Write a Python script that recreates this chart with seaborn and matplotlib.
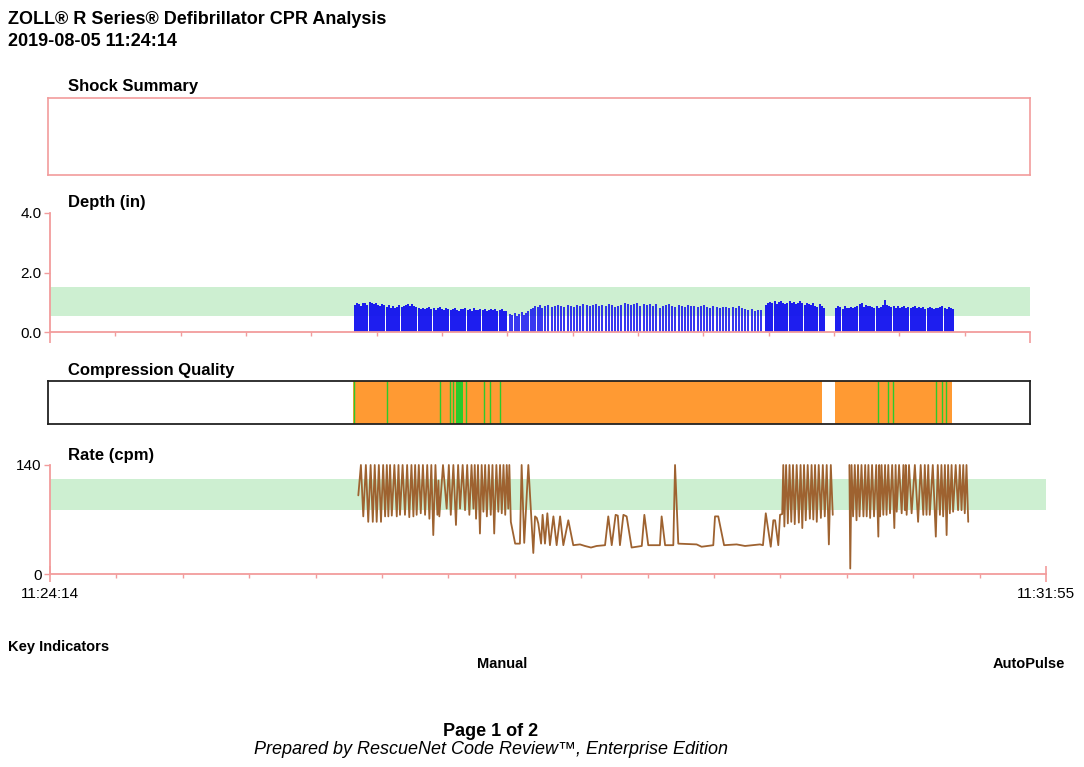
import numpy as np
import pandas as pd
import matplotlib
matplotlib.use("Agg")
import matplotlib.pyplot as plt
import seaborn as sns

sns.set_theme(style="white")
plt.rcParams['font.family'] = ['Liberation Sans', 'DejaVu Sans']
plt.rcParams['text.color'] = 'black'
plt.rcParams['xtick.color'] = 'black'
plt.rcParams['ytick.color'] = 'black'

# ---------------- data ----------------
T_END = 461  # seconds from 11:24:14 to 11:31:55
time_labels = ["11:24:14", "11:31:55"]

depth_ticks = [0.0, 2.0, 4.0]
depth_tick_labels = ["0.0", "2.0", "4.0"]
depth_target = (0.53, 1.52)

rate_ticks = [0, 140]
rate_tick_labels = ["0", "140"]
rate_target = (82, 122)

# depth bars: (start s, end s) of each compression run, and depths (in)
depth_seg_a = (143.3, 214.5)
depth_a = [0.92, 0.98, 0.95, 0.88, 0.99, 0.97, 0.90, 1.00, 0.96, 0.93, 0.98, 0.92,
           0.86, 0.95, 0.90, 0.84, 0.92, 0.82, 0.88, 0.80, 0.85, 0.90, 0.83, 0.87,
           0.92, 0.94, 0.86, 0.93, 0.89, 0.83, 0.80, 0.78, 0.82, 0.76, 0.80, 0.84,
           0.77, 0.81, 0.75, 0.79, 0.83, 0.76, 0.74, 0.80, 0.78, 0.73, 0.77, 0.81,
           0.75, 0.72, 0.78, 0.76, 0.80, 0.74, 0.77, 0.72, 0.79, 0.75, 0.73, 0.78,
           0.74, 0.76, 0.71, 0.75, 0.78, 0.73, 0.76, 0.72, 0.74, 0.77, 0.72, 0.70]
depth_seg_b = (216.4, 230.5)
depth_b = [0.62, 0.58, 0.64, 0.55, 0.60, 0.66, 0.58, 0.63, 0.70, 0.78, 0.82, 0.88,
           0.85, 0.92]
depth_seg_c = (231.5, 334.5)
depth_c = [0.80, 0.86, 0.90, 0.84, 0.88, 0.92, 0.86, 0.83, 0.90, 0.87, 0.85, 0.92,
           0.88, 0.94, 0.90, 0.86, 0.92, 0.95, 0.89, 0.91, 0.86, 0.93, 0.90, 0.84,
           0.88, 0.92, 0.96, 0.95, 0.90, 0.93, 0.96, 0.88, 0.94, 0.92, 0.95, 0.89,
           0.93, 0.82, 0.86, 0.90, 0.94, 0.88, 0.85, 0.91, 0.87, 0.84, 0.90, 0.86,
           0.88, 0.84, 0.87, 0.90, 0.85, 0.82, 0.86, 0.84, 0.81, 0.85, 0.83, 0.80,
           0.84, 0.82, 0.86, 0.80, 0.76, 0.74, 0.78, 0.72, 0.75, 0.73]
depth_seg_d = (336.8, 364.0)
depth_d = [0.90, 0.96, 1.02, 0.98, 1.05, 0.94, 1.00, 1.04, 0.97, 0.93, 0.99, 1.03,
           0.96, 1.01, 0.95, 0.98, 1.04, 0.97, 0.92, 0.99, 0.95, 0.90, 0.96, 0.88,
           0.85, 0.93, 0.89, 0.82]
depth_seg_e = (369.8, 424.8)
depth_e = [0.80, 0.88, 0.84, 0.78, 0.86, 0.82, 0.80, 0.85, 0.79, 0.83, 0.88, 0.95,
           0.97, 0.84, 0.90, 0.88, 0.86, 0.84, 0.82, 0.86, 0.80, 0.84, 0.90, 1.07,
           0.92, 0.88, 0.85, 0.87, 0.82, 0.86, 0.80, 0.84, 0.87, 0.82, 0.85, 0.79,
           0.83, 0.86, 0.80, 0.84, 0.82, 0.85, 0.78, 0.82, 0.84, 0.80, 0.77, 0.82,
           0.79, 0.83, 0.86, 0.81, 0.78, 0.84, 0.80, 0.76]

# compression quality
cq_runs = [(142.5, 363.0), (369.3, 424.3)]
cq_good_lines = [143.0, 158.5, 183.5, 188.2, 189.6, 195.7, 204.2, 207.0, 211.7,
                 389.3, 394.2, 396.6, 416.6, 419.6, 421.5]
cq_good_spans = [(190.9, 194.4)]

# rate (cpm), first run
rate_a_t = [142.7, 143.9, 145.0, 146.2, 147.3, 148.4, 149.4, 150.3, 151.2, 152.2,
            153.2, 154.2, 155.1, 155.9, 156.6, 157.4, 158.2, 159.4, 160.5, 161.3,
            162.0, 163.2, 164.3, 165.3, 166.3, 167.3, 168.2, 169.0, 169.7, 170.7,
            171.6, 172.6, 173.6, 174.6, 175.6, 176.5, 177.4, 178.4, 179.3, 179.8,
            180.2, 181.9, 183.6, 184.6, 185.5, 186.7, 187.9, 188.9, 189.8, 191.0,
            192.1, 193.1, 194.1, 195.1, 196.0, 196.6, 197.2, 198.1, 199.0, 199.8,
            200.6, 201.4, 202.2, 203.1, 204.0, 204.8, 205.6, 206.6, 207.5, 208.3,
            209.1, 209.9, 210.7, 211.4, 212.1, 212.6, 213.3, 215.3, 217.5, 218.3,
            219.5, 221.4, 223.7, 224.5, 225.3, 226.0, 227.3, 228.0, 229.1, 230.2,
            231.4, 233.0, 234.5, 236.1, 237.6, 239.9, 242.2, 245.3, 247.6, 250.4,
            253.0, 256.9, 258.4, 260.0, 261.8, 262.8, 263.8, 265.4, 266.9, 269.2,
            273.9, 275.1, 276.9, 282.3, 283.1, 284.7, 288.5, 289.3, 290.8, 299.3,
            301.6, 307.0, 307.8, 309.3, 312.0, 317.8, 321.7, 325.4, 328.6, 330.0,
            331.3, 333.6, 334.8, 335.6, 337.1, 337.9, 338.9, 339.4, 339.9, 340.7,
            341.5, 342.3, 343.1, 343.9, 344.7, 345.6, 346.6, 347.4, 348.2, 349.0,
            349.8, 350.7, 351.7, 352.5, 353.3, 354.1, 354.9, 355.8, 356.8, 357.7,
            358.6, 359.5, 360.5, 361.4, 362.3]
rate_a_v = [101, 140, 74, 140, 67, 140, 67, 140, 67, 140,
            67, 140, 74, 140, 74, 140, 75, 140, 74, 140,
            76, 140, 76, 140, 73, 140, 74, 140, 76, 140,
            78, 140, 76, 140, 71, 140, 50, 140, 76, 120,
            74, 140, 84, 140, 76, 140, 63, 140, 84, 140,
            82, 140, 76, 140, 84, 140, 71, 140, 52, 140,
            80, 140, 74, 140, 76, 140, 52, 140, 80, 140,
            78, 140, 76, 140, 84, 140, 67, 39, 39, 140,
            40, 140, 27, 74, 72, 65, 39, 76, 39, 78,
            37, 74, 37, 74, 37, 69, 37, 38, 36, 34,
            36, 37, 74, 37, 76, 75, 37, 76, 74, 34,
            36, 76, 37, 37, 74, 37, 37, 140, 39, 38,
            35, 37, 74, 74, 37, 38, 36, 37, 38, 37,
            78, 35, 69, 69, 37, 76, 77, 140, 61, 140,
            65, 140, 67, 140, 64, 140, 66, 140, 59, 140,
            69, 140, 71, 140, 70, 140, 67, 140, 72, 140,
            74, 140, 38, 140, 76]

# rate (cpm), second run
rate_b_t = [370.0, 370.4, 371.0, 371.7, 372.5, 373.3, 374.0, 374.7, 375.6, 376.5,
            377.3, 378.0, 378.8, 379.6, 380.5, 381.4, 382.4, 383.4, 383.8, 384.2,
            384.9, 385.7, 386.5, 387.2, 388.0, 388.8, 389.8, 390.8, 391.4, 391.9,
            393.0, 394.2, 395.0, 395.7, 396.1, 396.5, 397.6, 398.8, 400.3, 401.8,
            403.0, 404.2, 404.9, 405.7, 406.5, 407.2, 408.6, 410.0, 410.9, 411.9,
            412.6, 413.4, 414.2, 415.0, 415.7, 416.5, 417.3, 418.0, 419.2, 420.3,
            421.1, 421.9, 422.7, 423.4, 424.2, 425.0]
rate_b_v = [140, 7, 140, 74, 140, 69, 140, 74, 140, 74,
            140, 74, 140, 72, 140, 74, 140, 48, 140, 74,
            140, 76, 140, 76, 140, 78, 140, 59, 140, 80,
            140, 78, 140, 82, 140, 76, 140, 78, 140, 67,
            140, 76, 140, 76, 140, 76, 140, 48, 140, 76,
            140, 74, 140, 50, 140, 78, 140, 80, 140, 82,
            140, 82, 140, 78, 140, 67]

# ---------------- styling ----------------
W, H = 1084, 767
PINK = '#F29C9C'
BAND = '#CDEFD1'
BLUE = '#1010EE'
BROWN = '#9E6230'
ORANGE = '#FF9A33'
GREEN = '#2BCB2B'

fig = plt.figure(figsize=(W / 100, H / 100), dpi=100)
fig.patch.set_facecolor('white')


def px_axes(l, t, r, b):
    return fig.add_axes([l / W, 1 - b / H, (r - l) / W, (b - t) / H])


def px_text(x, y, s, **kw):
    fig.text(x / W, 1 - y / H, s, va='center', color='black', **kw)


# header
px_text(8, 19, "ZOLL® R Series® Defibrillator CPR Analysis", ha='left',
        fontsize=13, fontweight='bold')
px_text(8, 41, "2019-08-05 11:24:14", ha='left', fontsize=13, fontweight='bold')

# ---- Shock summary ----
px_text(68, 86, "Shock Summary", ha='left', fontsize=12, fontweight='bold')
ax_s = px_axes(48, 98, 1030, 175)
ax_s.set_xticks([])
ax_s.set_yticks([])
for sp in ax_s.spines.values():
    sp.set_color(PINK)
    sp.set_linewidth(1.2)
ax_s.set_facecolor('white')

# ---- Depth ----
px_text(68, 203, "Depth (in)", ha='left', fontsize=12, fontweight='bold')
ax_d = px_axes(50, 213, 1030, 332)
ax_d.set_xlim(0, T_END)
ax_d.set_ylim(0, 4.0)
ax_d.axhspan(depth_target[0], depth_target[1], color=BAND, lw=0, zorder=0)
for (s, e), h, w in [(depth_seg_a, depth_a, 1.35), (depth_seg_b, depth_b, 1.2),
                     (depth_seg_c, depth_c, 1.2), (depth_seg_d, depth_d, 1.35),
                     (depth_seg_e, depth_e, 1.35)]:
    tt = np.linspace(s, e, len(h))
    ax_d.vlines(tt, 0, h, color=BLUE, lw=w, zorder=2)
ax_d.set_yticks(depth_ticks)
ax_d.set_yticklabels(depth_tick_labels)
ax_d.set_xticks([0, T_END])
ax_d.set_xticks(np.linspace(0, T_END, 16)[1:-1], minor=True)
ax_d.tick_params(axis='x', which='major', direction='out', length=8, width=1.2,
                 color=PINK, labelbottom=False, bottom=True)
ax_d.tick_params(axis='x', which='minor', direction='out', length=3, width=1.0,
                 color=PINK, bottom=True)
ax_d.tick_params(axis='y', direction='out', length=4, width=1.0, color=PINK,
                 labelsize=11, pad=2, left=True, labelcolor='black')
for k in ['top', 'right']:
    ax_d.spines[k].set_visible(False)
for k in ['left', 'bottom']:
    ax_d.spines[k].set_color(PINK)
    ax_d.spines[k].set_linewidth(1.3)
ax_d.set_facecolor('none')

# ---- Compression quality ----
px_text(68, 370, "Compression Quality", ha='left', fontsize=12, fontweight='bold')
ax_c = px_axes(48, 381, 1030, 424)
ax_c.set_xlim(-0.94, T_END)
ax_c.set_ylim(0, 1)
for s, e in cq_runs:
    ax_c.axvspan(s, e, color=ORANGE, lw=0, zorder=1)
for s, e in cq_good_spans:
    ax_c.axvspan(s, e, color=GREEN, lw=0, zorder=2)
ax_c.vlines(cq_good_lines, 0, 1, color=GREEN, lw=1.0, zorder=2)
ax_c.set_xticks([])
ax_c.set_yticks([])
for sp in ax_c.spines.values():
    sp.set_color('#222222')
    sp.set_linewidth(1.3)
    sp.set_zorder(5)

# ---- Rate ----
px_text(68, 456, "Rate (cpm)", ha='left', fontsize=12, fontweight='bold')
ax_r = px_axes(50, 465, 1046, 574)
ax_r.set_xlim(0, T_END)
ax_r.set_ylim(0, 140)
ax_r.axhspan(rate_target[0], rate_target[1], color=BAND, lw=0, zorder=0)
df_a = pd.DataFrame({'t': rate_a_t, 'rate': rate_a_v})
df_b = pd.DataFrame({'t': rate_b_t, 'rate': rate_b_v})
for df in (df_a, df_b):
    sns.lineplot(data=df, x='t', y='rate', ax=ax_r, color=BROWN, lw=1.3,
                 estimator=None, sort=False, clip_on=False, zorder=3)
ax_r.set_xlabel('')
ax_r.set_ylabel('')
ax_r.set_yticks(rate_ticks)
ax_r.set_yticklabels(rate_tick_labels)
ax_r.set_xticks([0, T_END])
ax_r.set_xticklabels(time_labels)
ax_r.set_xticks(np.linspace(0, T_END, 16)[1:-1], minor=True)
ax_r.tick_params(axis='x', which='major', direction='inout', length=12, width=1.2,
                 color=PINK, labelsize=11, pad=3, bottom=True, labelcolor='black')
ax_r.tick_params(axis='x', which='minor', direction='out', length=3, width=1.0,
                 color=PINK, bottom=True)
ax_r.tick_params(axis='y', direction='out', length=4, width=1.0, color=PINK,
                 labelsize=11, pad=2, left=True, labelcolor='black')
for k in ['top', 'right']:
    ax_r.spines[k].set_visible(False)
for k in ['left', 'bottom']:
    ax_r.spines[k].set_color(PINK)
    ax_r.spines[k].set_linewidth(1.3)
ax_r.set_facecolor('none')
if ax_r.get_legend() is not None:
    ax_r.get_legend().remove()

# ---- footer ----
px_text(8, 647, "Key Indicators", ha='left', fontsize=10.5, fontweight='bold')
px_text(502, 664, "Manual", ha='center', fontsize=10.5, fontweight='bold')
px_text(1065, 664, "AutoPulse", ha='right', fontsize=10.5, fontweight='bold')
px_text(491, 731, "Page 1 of 2", ha='center', fontsize=13, fontweight='bold')
px_text(491, 750, "Prepared by RescueNet Code Review™, Enterprise Edition",
        ha='center', fontsize=13, fontstyle='italic')

fig.savefig("out.png", dpi=100, facecolor='white')
